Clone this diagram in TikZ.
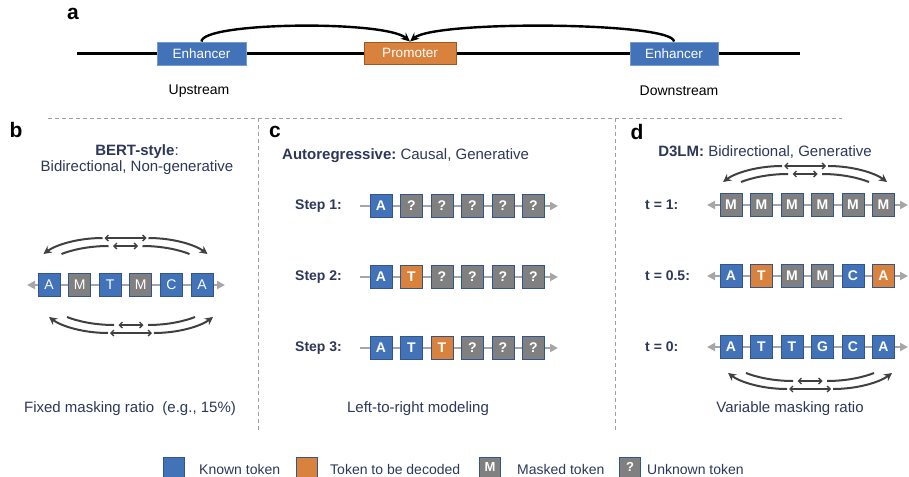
\documentclass[tikz,border=0pt]{standalone}
\usepackage{fontspec}
\setmainfont{Liberation Sans}
\usetikzlibrary{arrows.meta}
\definecolor{tokblue}{RGB}{66,114,184}
\definecolor{tokorange}{RGB}{216,130,62}
\definecolor{tokgray}{RGB}{128,128,128}
\definecolor{tokborder}{RGB}{52,84,140}
\definecolor{navy}{RGB}{44,55,90}
\definecolor{rowgray}{RGB}{166,166,166}
\definecolor{arcgray}{RGB}{64,64,64}
\definecolor{dashgray}{RGB}{160,160,160}
\definecolor{enhborder}{RGB}{120,155,205}
\definecolor{probor}{RGB}{160,88,35}
\newcommand{\fs}[1]{\fontsize{#1}{#1}\selectfont}
\tikzset{
  tok/.style={draw=tokborder, line width=0.8pt, minimum width=22pt, minimum height=23pt, inner sep=0pt, text=white, font=\fs{14}},
  tokb/.style={tok, font=\fs{14}\bfseries},
  known/.style={fill=tokblue},
  dec/.style={fill=tokorange},
  msk/.style={fill=tokgray},
  rowline/.style={draw=rowgray, line width=2.6pt},
  rowtip/.style={-{Triangle[length=8pt,width=8pt]}},
  rowtips/.style={{Triangle[length=8pt,width=8pt]}-{Triangle[length=8pt,width=8pt]}},
  arcarrow/.style={draw=arcgray, line width=2pt, -{Stealth[length=8pt,width=8pt]}},
  arcplain/.style={draw=arcgray, line width=2pt},
  dbl/.style={draw=arcgray, line width=1.3pt, {Straight Barb[length=3pt,width=6pt]}-{Straight Barb[length=3pt,width=6pt]}},
  desc/.style={text=navy, font=\fs{15}, inner sep=0pt},
  steplbl/.style={text=navy, font=\fs{14}\bfseries, inner sep=0pt, anchor=west},
  panel/.style={font=\fs{21}\bfseries, inner sep=0pt},
  sep/.style={draw=dashgray, line width=0.9pt, dash pattern=on 4pt off 3pt},
  genebox/.style={minimum height=23pt, inner sep=0pt, text=white, font=\fs{13.5}, line width=0.9pt},
  lgd/.style={text=navy, font=\fs{14}, inner sep=0pt, anchor=west},
  lgbox/.style={draw=tokborder, line width=0.8pt, minimum width=21pt, minimum height=20pt, inner sep=0pt, text=white, font=\fs{13}\bfseries}
}
% arc group: #1 = center x, #2 = tip y, #3 = yscale (1 top, -1 bottom)
\newcommand{\arcgroup}[3]{%
  \begin{scope}[shift={(#1,#2)}, yscale=#3]
    \draw[arcarrow] (-23,-16) .. controls (-48,-16) and (-70,-9) .. (-82,0);
    \draw[arcarrow] (23,-16) .. controls (48,-16) and (70,-9) .. (82,0);
    \draw[arcplain] (-17,-8) .. controls (-37,-8) and (-54,-4) .. (-64,0);
    \draw[arcplain] (17,-8) .. controls (37,-8) and (54,-4) .. (64,0);
    \draw[dbl] (-21,-16) -- (21,-16);
    \draw[dbl] (-12.5,-8) -- (12.5,-8);
  \end{scope}}
\begin{document}
\begin{tikzpicture}[x=1pt,y=-1pt]
\useasboundingbox (0,0) rectangle (909,476);
% ---------------- panel a
\node[panel] (la) at (73,14) {a};
\coordinate (gl) at (77,53.5);
\coordinate (gr) at (800,53.5);
\draw[line width=3pt, black] (gl) -- (gr);
\node[genebox, fill=tokblue, draw=enhborder, minimum width=89pt] (enh1) at (201.5,53.5) {Enhancer};
\node[genebox, fill=tokorange, draw=probor, minimum width=92pt, minimum height=22pt] (pro) at (410,53) {Promoter};
\node[genebox, fill=tokblue, draw=enhborder, minimum width=88pt] (enh2) at (674,53.5) {Enhancer};
\draw[line width=2.4pt, black, -{Stealth[length=9pt,width=8pt]}] (enh1.north) .. controls (201.5,22) and (385,20) .. (pro.north);
\draw[line width=2.4pt, black, -{Stealth[length=9pt,width=8pt]}] (enh2.north) .. controls (674,22) and (435,20) .. (pro.north);
\node[font=\fs{14}, inner sep=0pt] (up) at (199,91) {Upstream};
\node[font=\fs{14}, inner sep=0pt] (down) at (679,91) {Downstream};
% ---------------- separators
\draw[sep] (48,118) -- (842,118);
\draw[sep] (258,118) -- (258,432);
\draw[sep] (615,118) -- (615,432);
% ---------------- panel b
\node[panel] (lb) at (16,130) {b};
\node[desc] (bt1) at (137,152) {\bfseries BERT-style\mdseries:};
\node[desc] (bt2) at (137,168) {Bidirectional, Non-generative};
\coordinate (bs) at (27,285);
\coordinate (be) at (225,285);
\draw[rowline, rowtips] (bs) -- (be);
\foreach \l/\s [count=\i] in {A/known, M/msk, T/known, M/msk, C/known, A/known}
  \node[tok, \s] (b\i) at ({49+30.6*(\i-1)},285) {\l};
\arcgroup{125.5}{254}{1}
\arcgroup{131}{317}{-1}
\node[desc] (bf) at (130,409) {Fixed masking ratio\ \ (e.g., 15\%)};
% ---------------- panel c
\node[panel] (lc) at (275,132) {c};
\node[desc, anchor=west] (ct) at (282,156) {\bfseries Autoregressive:\mdseries\ Causal, Generative};
\foreach \r/\y/\lst in {1/206/{A/known, ?/msk, ?/msk, ?/msk, ?/msk, ?/msk},
                       2/277/{A/known, T/dec, ?/msk, ?/msk, ?/msk, ?/msk},
                       3/348/{A/known, T/known, T/dec, ?/msk, ?/msk, ?/msk}} {
  \node[steplbl] (cl\r) at (295,\y) {Step \r:};
  \coordinate (cs\r) at (360,\y);
  \coordinate (ce\r) at (558,\y);
  \draw[rowline, rowtip] (cs\r) -- (ce\r);
  \foreach \l/\s [count=\i] in \lst
    \node[tokb, \s] (c\r-\i) at ({381+30.5*(\i-1)},\y) {\l};
}
\node[desc] (cf) at (418,409) {Left-to-right modeling};
% ---------------- panel d
\node[panel] (ld) at (637,132) {d};
\node[desc] (dt) at (765,152) {\bfseries D3LM:\mdseries\ Bidirectional, Generative};
\foreach \r/\y/\lab/\lst in {1/205/{t = 1:}/{M/msk, M/msk, M/msk, M/msk, M/msk, M/msk},
                       2/276/{t = 0.5:}/{A/known, T/dec, M/msk, M/msk, C/known, A/dec},
                       3/347/{t = 0:}/{A/known, T/known, T/known, G/known, C/known, A/known}} {
  \node[steplbl] (dl\r) at (645,\y) {\lab};
  \coordinate (ds\r) at (707,\y);
  \coordinate (de\r) at (908,\y);
  \draw[rowline, rowtips] (ds\r) -- (de\r);
  \foreach \l/\s [count=\i] in \lst
    \node[tokb, \s] (d\r-\i) at ({731+30.5*(\i-1)},\y) {\l};
}
\arcgroup{805}{182}{1}
\arcgroup{810}{373}{-1}
\node[desc] (df) at (790,409) {Variable masking ratio};
% ---------------- legend
\node[lgbox, fill=tokblue] (k1) at (174,467) {};
\node[lgd] (k1t) at (199,469) {Known token};
\node[lgbox, fill=tokorange] (k2) at (307,467) {};
\node[lgd] (k2t) at (330,469) {Token to be decoded};
\node[lgbox, fill=tokgray] (k3) at (490,467) {M};
\node[lgd] (k3t) at (517,469) {Masked token};
\node[lgbox, fill=tokgray] (k4) at (630,467) {?};
\node[lgd] (k4t) at (647,469) {Unknown token};
\end{tikzpicture}
\end{document}
